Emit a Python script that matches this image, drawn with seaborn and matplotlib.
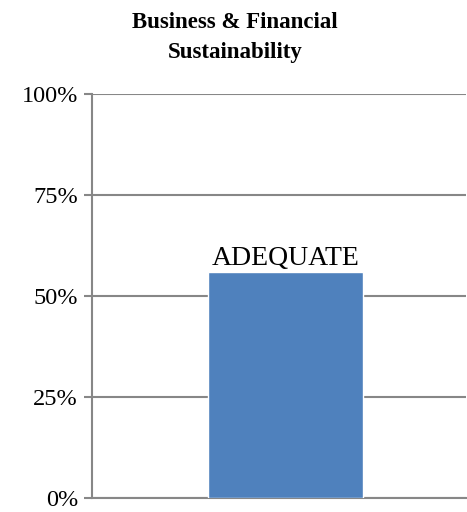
import matplotlib
matplotlib.use("Agg")
import matplotlib.pyplot as plt
import seaborn as sns
import pandas as pd

categories = ["Business & Financial Sustainability"]
values = [56]
labels = ["ADEQUATE"]
yticks = [0, 25, 50, 75, 100]

sns.set_style("white")
plt.rcParams["font.family"] = ["Liberation Serif", "DejaVu Serif"]

df = pd.DataFrame({"cat": categories, "val": values})

fig = plt.figure(figsize=(4.67, 5.12), dpi=100)
ax = fig.add_axes([0.197, 0.028, 0.80, 0.788])

sns.barplot(data=df, x="cat", y="val", color="#4F81BD", saturation=1, width=0.415, ax=ax, zorder=3)

for i, (v, lab) in enumerate(zip(values, labels)):
    ax.text(i, v + 0.3, lab, ha="center", va="bottom", fontsize=20, color="black", zorder=4)

ax.set_ylim(0, 100)
ax.set_xlim(-0.518, 0.482)
ax.set_yticks(yticks)
ax.set_yticklabels([f"{t}%" for t in yticks], fontsize=17.5, color="black")
ax.set_xticks([])
ax.set_xlabel("")
ax.set_ylabel("")
ax.yaxis.grid(True, color="#878787", linewidth=1.5, zorder=0)
ax.tick_params(axis="y", direction="out", length=6, width=1.5, color="#878787", left=True, pad=4)
for s in ["top", "right"]:
    ax.spines[s].set_visible(False)
for s in ["left", "bottom"]:
    ax.spines[s].set_color("#878787")
    ax.spines[s].set_linewidth(1.5)

fig.text(0.503, 0.927, "Business & Financial\nSustainability", ha="center", va="center",
         fontsize=16.5, fontweight="bold", linespacing=1.6, color="black")

fig.savefig("out.png", dpi=100)
